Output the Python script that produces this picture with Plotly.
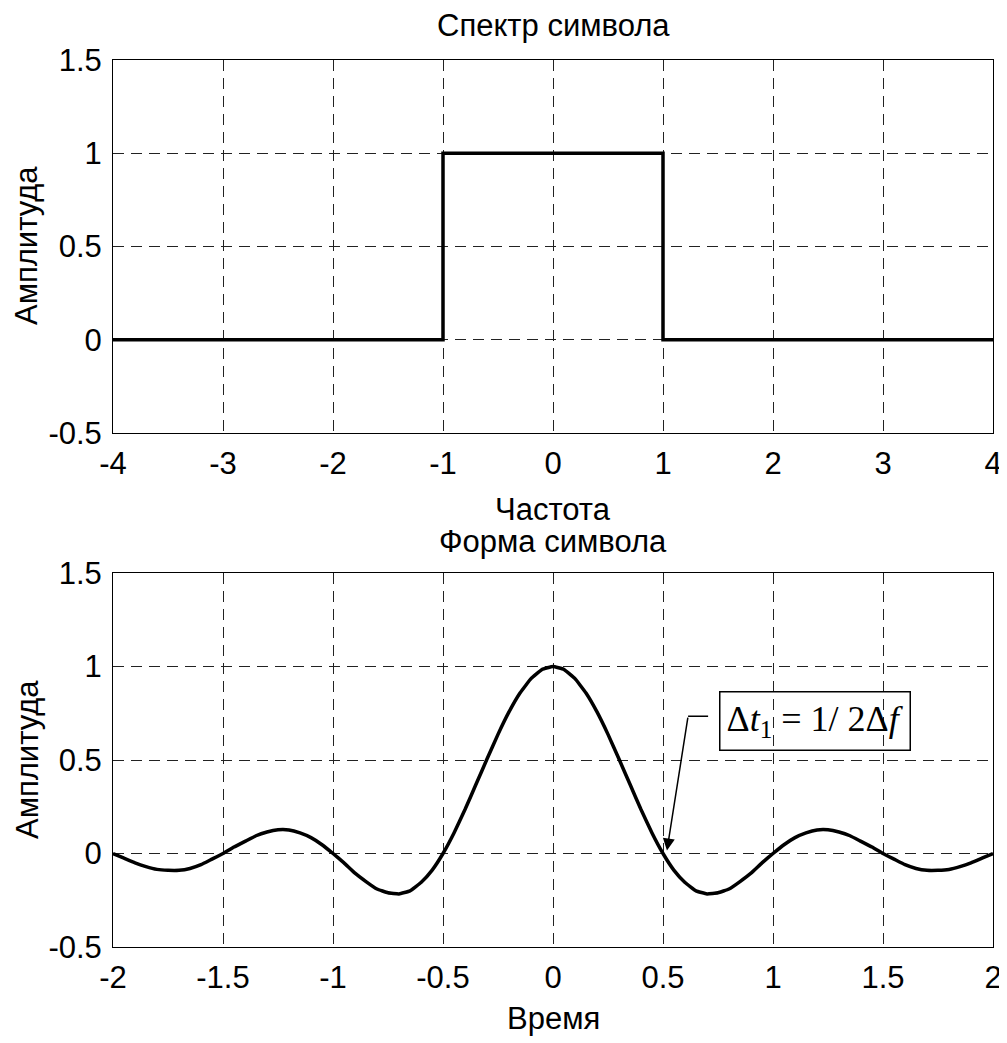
import plotly.graph_objects as go

# ---- data ----
spec_f = [-4, -1, -1, 1, 1, 4]
spec_a = [0, 0, 1, 1, 0, 0]

time_t = [-2.00, -1.95, -1.90, -1.85, -1.80, -1.75, -1.70, -1.65, -1.60, -1.55,
          -1.50, -1.45, -1.40, -1.35, -1.30, -1.25, -1.20, -1.15, -1.10, -1.05,
          -1.00, -0.95, -0.90, -0.85, -0.80, -0.75, -0.70, -0.65, -0.60, -0.55,
          -0.50, -0.45, -0.40, -0.35, -0.30, -0.25, -0.20, -0.15, -0.10, -0.05,
          0.00, 0.05, 0.10, 0.15, 0.20, 0.25, 0.30, 0.35, 0.40, 0.45,
          0.50, 0.55, 0.60, 0.65, 0.70, 0.75, 0.80, 0.85, 0.90, 0.95,
          1.00, 1.05, 1.10, 1.15, 1.20, 1.25, 1.30, 1.35, 1.40, 1.45,
          1.50, 1.55, 1.60, 1.65, 1.70, 1.75, 1.80, 1.85, 1.90, 1.95, 2.00]
time_a = [0.00, -0.025, -0.05, -0.07, -0.085, -0.09, -0.09, -0.08, -0.06, -0.03,
          0.00, 0.035, 0.065, 0.095, 0.115, 0.127, 0.126, 0.11, 0.085, 0.047,
          0.00, -0.05, -0.105, -0.15, -0.19, -0.21, -0.216, -0.20, -0.155, -0.09,
          0.00, 0.11, 0.235, 0.37, 0.505, 0.637, 0.757, 0.858, 0.935, 0.984,
          1.00, 0.984, 0.935, 0.858, 0.757, 0.637, 0.505, 0.37, 0.235, 0.11,
          0.00, -0.09, -0.155, -0.20, -0.216, -0.21, -0.19, -0.15, -0.105, -0.05,
          0.00, 0.047, 0.085, 0.11, 0.126, 0.127, 0.115, 0.095, 0.065, 0.035,
          0.00, -0.03, -0.06, -0.08, -0.09, -0.09, -0.085, -0.07, -0.05, -0.025, 0.00]

x1_ticks = [-4, -3, -2, -1, 0, 1, 2, 3, 4]
x1_labels = ["-4", "-3", "-2", "-1", "0", "1", "2", "3", "4"]
x2_ticks = [-2, -1.5, -1, -0.5, 0, 0.5, 1, 1.5, 2]
x2_labels = ["-2", "-1.5", "-1", "-0.5", "0", "0.5", "1", "1.5", "2"]
y_ticks = [-0.5, 0, 0.5, 1, 1.5]
y_labels = ["-0.5", "0", "0.5", "1", "1.5"]

W, H = 999, 1035
OFF = 8  # page body margin
FONT = "Liberation Sans, Arial, sans-serif"
FS = 31

def px_x(p):
    return (p - OFF) / W

def px_y(p):
    return 1 - (p - OFF) / H

fig = go.Figure()
fig.add_trace(go.Scatter(x=spec_f, y=spec_a, mode="lines",
                         line=dict(color="black", width=3.5), xaxis="x", yaxis="y",
                         showlegend=False))
fig.add_trace(go.Scatter(x=time_t, y=time_a, mode="lines",
                         line=dict(color="black", width=3.5, shape="spline", smoothing=0.3),
                         xaxis="x2", yaxis="y2", showlegend=False))

axis_common = dict(showline=True, linecolor="black", linewidth=1, mirror=True,
                   showgrid=True, gridcolor="#222222", gridwidth=1, griddash="11px,7px",
                   zeroline=False, ticks="", automargin=False,
                   tickfont=dict(family=FONT, size=FS, color="black"))

fig.update_layout(
    width=W, height=H,
    margin=dict(l=0, r=0, t=0, b=0),
    paper_bgcolor="white", plot_bgcolor="white",
    showlegend=False,
    xaxis=dict(domain=[px_x(113), px_x(993)], range=[-4, 4], tickvals=x1_ticks,
               ticktext=x1_labels, anchor="y", ticklabelstandoff=3, **axis_common),
    yaxis=dict(domain=[px_y(433), px_y(60)], range=[-0.5, 1.5], tickvals=y_ticks,
               ticktext=y_labels, anchor="x", ticklabelstandoff=4, **axis_common),
    xaxis2=dict(domain=[px_x(113), px_x(993)], range=[-2, 2], tickvals=x2_ticks,
                ticktext=x2_labels, anchor="y2", ticklabelstandoff=3, **axis_common),
    yaxis2=dict(domain=[px_y(947), px_y(573)], range=[-0.5, 1.5], tickvals=y_ticks,
                ticktext=y_labels, anchor="x2", ticklabelstandoff=4, **axis_common),
)

def label(text, xp, yp, angle=0):
    fig.add_annotation(text=text, xref="paper", yref="paper", x=px_x(xp), y=px_y(yp),
                       xanchor="center", yanchor="middle", showarrow=False, textangle=angle,
                       font=dict(family=FONT, size=FS, color="black"))

label("Спектр символа", 553, 25)
label("Частота", 553, 509)
label("Форма символа", 553, 541)
label("Время", 553, 1018)
label("Амплитуда", 27, 246, -90)
label("Амплитуда", 27, 760, -90)

# annotation box with formula
fig.add_annotation(text="Δ<i>t</i><sub>1</sub> = 1/ 2Δ<i>f</i>", xref="x2", yref="y2",
                   x=1.19, y=0.707, showarrow=False, xanchor="center", yanchor="middle",
                   bordercolor="black", borderwidth=1.5, borderpad=6, bgcolor="rgba(0,0,0,0)",
                   font=dict(family="Liberation Serif, Times New Roman, serif", size=36,
                             color="black"))
fig.add_shape(type="line", xref="x2", yref="y2", x0=0.614, y0=0.734, x1=0.705, y1=0.734,
              line=dict(color="black", width=1.5))
fig.add_annotation(text="", xref="x2", yref="y2", axref="x2", ayref="y2",
                   x=0.518, y=0.016, ax=0.614, ay=0.734, showarrow=True,
                   arrowhead=2, arrowsize=1.6, arrowwidth=1.5, arrowcolor="black")

fig.write_html("out.html")
